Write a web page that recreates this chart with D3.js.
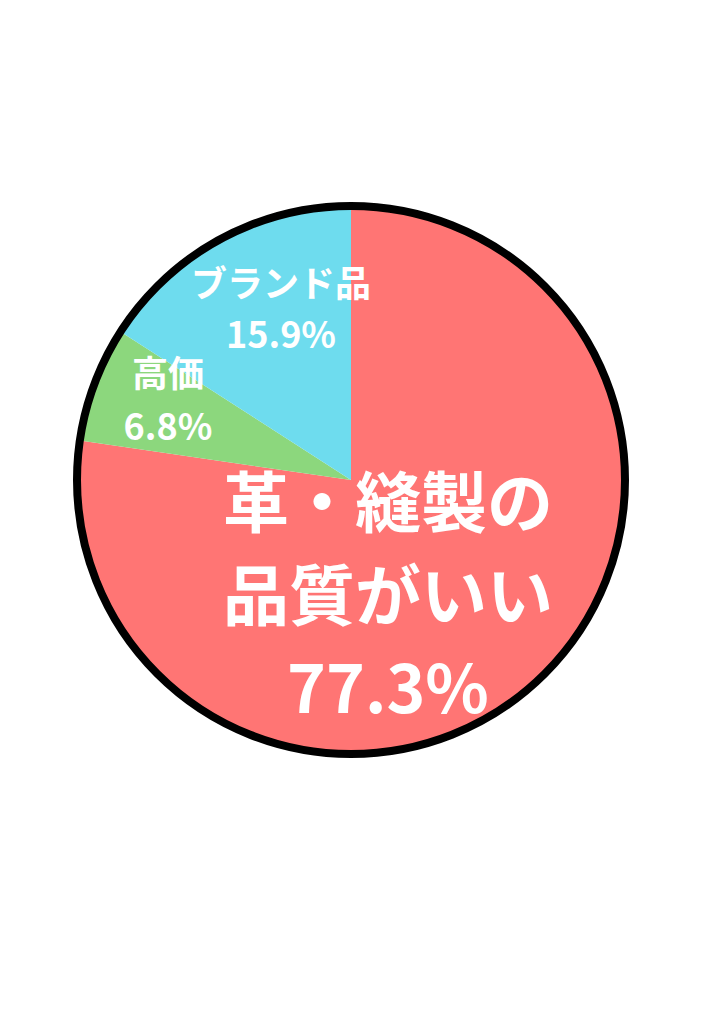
<!DOCTYPE html>
<html>
<head>
<meta charset="utf-8">
<script src="https://cdn.jsdelivr.net/npm/d3@7"></script>
<style>
  html, body { margin: 0; padding: 0; background: #fff; }
  svg { display: block; }
  .lbl { font-family: "Noto Sans CJK JP", "Noto Sans", sans-serif; font-weight: 700; fill: #fff; text-anchor: middle; }
</style>
</head>
<body>
<svg id="chart" width="724" height="1024"></svg>
<script>
// data, clockwise from 12 o'clock
var categories = ["革・縫製の品質がいい", "高価", "ブランド品"];
var values = [77.3, 6.8, 15.9];
var labelLines = [["革・縫製の", "品質がいい", "77.3%"], ["高価", "6.8%"], ["ブランド品", "15.9%"]];
var colours = ["#ff7574", "#8cd77d", "#6edcee"];

var width = 724, height = 1024;
var cx = 351, cy = 480, radius = 274;

// label placement relative to centre: [x of middle, first baseline, line step, font size]
var labelLayout = [
    [37, 47, 93, 66],
    [-183, -93, 53, 36],
    [-70, -183, 51, 36]
];

var svg = d3.select("#chart");
var g = svg.append("g").attr("transform", "translate(" + cx + "," + cy + ")");

var pie = d3.pie().sort(null).value(function(d) { return d; });
var arc = d3.arc().innerRadius(0).outerRadius(radius);
var arcs = pie(values);

g.selectAll("path.slice")
    .data(arcs)
    .enter()
    .append("path")
    .attr("class", "slice")
    .attr("d", arc)
    .attr("fill", function(d, i) { return colours[i]; });

g.append("circle")
    .attr("r", radius)
    .attr("fill", "none")
    .attr("stroke", "#000")
    .attr("stroke-width", 8);

arcs.forEach(function(d, i) {
    var lay = labelLayout[i];
    var t = g.append("text")
        .attr("class", "lbl")
        .style("font-size", lay[3] + "px");
    labelLines[i].forEach(function(line, j) {
        t.append("tspan")
            .attr("x", lay[0])
            .attr("y", lay[1] + j * lay[2])
            .text(line);
    });
});
</script>
</body>
</html>
